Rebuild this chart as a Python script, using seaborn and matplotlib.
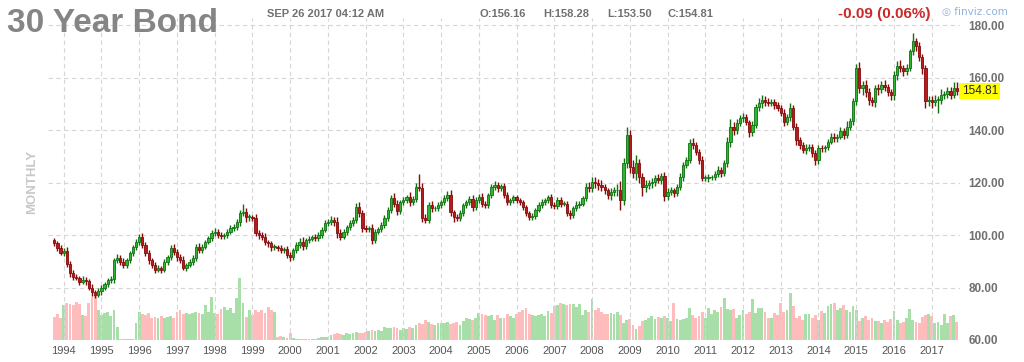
import numpy as np
import pandas as pd
import matplotlib
matplotlib.use("Agg")
import matplotlib.pyplot as plt
import seaborn as sns

# ---------------- data (monthly, Oct 1993 .. Sep 2017) ----------------
closes = [
    97.0, 95.0, 93.2,                                                          # 1993 Oct-Dec
    94.0, 89.0, 85.5, 84.0, 83.7, 82.1, 83.0, 82.3, 80.0, 78.2, 77.3, 78.5,     # 1994
    80.0, 81.2, 82.8, 83.3, 90.5, 91.3, 89.7, 88.6, 90.3, 93.0, 95.3, 97.3,     # 1995
    99.3, 96.2, 93.0, 90.5, 88.6, 86.7, 87.3, 86.8, 89.7, 91.6, 95.0, 93.5,     # 1996
    91.6, 90.5, 87.5, 88.6, 89.7, 91.3, 95.3, 94.2, 95.5, 97.3, 98.8, 100.8,    # 1997
    101.2, 100.0, 99.6, 100.0, 101.2, 102.7, 103.0, 105.0, 108.4, 108.7, 106.8, 106.8,  # 1998
    106.5, 100.8, 100.0, 99.3, 97.3, 96.9, 95.4, 95.4, 95.0, 94.3, 94.6, 92.4,  # 1999
    91.6, 94.3, 96.2, 97.3, 95.8, 98.0, 98.5, 99.3, 98.8, 100.0, 102.0, 104.6,  # 2000
    105.0, 105.7, 105.0, 100.8, 99.3, 101.2, 103.0, 104.6, 105.7, 110.6, 108.4, 102.7,  # 2001
    102.3, 102.7, 98.0, 101.2, 102.3, 103.8, 106.5, 109.5, 114.0, 112.0, 109.0, 112.5,  # 2002
    113.3, 114.4, 112.5, 113.7, 118.3, 117.9, 106.5, 105.7, 111.4, 110.2, 110.2, 111.4,  # 2003
    112.5, 114.0, 115.2, 108.7, 106.8, 106.5, 108.4, 111.4, 112.5, 113.7, 110.6, 113.3,  # 2004
    114.4, 112.0, 111.4, 115.2, 118.3, 119.0, 117.9, 118.5, 115.2, 112.5, 113.3, 114.4,  # 2005
    113.3, 112.5, 110.6, 108.4, 106.8, 107.2, 109.5, 111.4, 112.5, 113.3, 114.4, 111.4,  # 2006
    111.0, 113.3, 112.0, 112.0, 108.4, 107.6, 110.2, 111.4, 112.0, 114.0, 118.3, 117.9,  # 2007
    120.2, 119.8, 119.0, 118.3, 117.0, 115.2, 116.3, 117.0, 117.0, 113.5, 127.4, 138.0,  # 2008
    126.0, 123.6, 127.4, 122.0, 118.3, 119.0, 119.8, 120.2, 121.7, 121.0, 122.5, 114.8,  # 2009
    116.3, 117.0, 116.0, 118.3, 122.0, 126.7, 128.6, 135.0, 134.3, 131.6, 128.6, 121.7,  # 2010
    121.7, 122.0, 122.0, 123.2, 124.8, 123.5, 127.4, 135.4, 141.1, 140.0, 142.6, 144.6,  # 2011
    145.0, 143.0, 139.2, 141.9, 148.8, 150.3, 151.4, 150.7, 150.3, 150.7, 149.5, 148.4,  # 2012
    146.5, 143.0, 145.0, 148.4, 141.1, 136.2, 134.3, 132.4, 133.1, 133.5, 131.2, 128.6,  # 2013
    133.2, 133.0, 133.5, 135.5, 137.5, 136.8, 137.5, 139.5, 138.0, 141.0, 143.5, 151.0,  # 2014
    163.5, 156.0, 157.0, 154.5, 151.5, 150.5, 156.0, 155.5, 157.0, 156.5, 154.5, 153.5,  # 2015
    161.0, 164.5, 163.5, 162.5, 163.5, 170.0, 174.0, 172.0, 168.0, 163.5, 151.0, 151.5,  # 2016
    150.5, 151.5, 151.5, 153.5, 153.8, 155.0, 153.5, 156.16, 154.81,                    # 2017
]
first_open = 98.0

wick_up = [
    1.0, 0.8, 1.2,
    1.0, 1.5, 1.2, 1.0, 1.3, 0.8, 1.2, 1.0, 0.9, 1.2, 1.0, 1.4,
    1.0, 0.8, 1.0, 1.2, 0.8, 1.5, 1.0, 1.4, 1.0, 0.8, 0.9, 1.0,
    1.2, 1.5, 1.0, 1.2, 0.8, 1.0, 1.3, 0.9, 1.0, 0.8, 1.2, 1.6,
    1.2, 1.0, 1.5, 0.8, 1.0, 0.9, 1.2, 1.5, 1.0, 0.8, 0.9, 1.0,
    1.4, 1.0, 1.0, 0.8, 0.9, 1.0, 1.1, 1.0, 1.2, 3.0, 1.5, 1.2,
    1.0, 1.5, 1.2, 1.0, 1.4, 0.8, 1.0, 1.2, 0.9, 1.3, 1.0, 1.2,
    1.0, 0.8, 1.0, 1.5, 2.0, 0.9, 1.0, 0.8, 1.2, 1.0, 0.9, 1.0,
    1.2, 1.5, 1.3, 2.0, 1.5, 1.0, 0.9, 1.0, 1.2, 1.6, 1.8, 1.2,
    1.0, 0.9, 1.5, 1.0, 0.8, 1.0, 1.2, 1.0, 1.4, 2.0, 1.5, 1.0,
    1.2, 1.0, 1.8, 1.2, 1.5, 5.0, 2.0, 1.5, 1.2, 1.5, 1.0, 1.2,
    1.0, 1.2, 1.5, 1.8, 1.0, 1.2, 1.0, 0.9, 1.0, 1.2, 1.5, 1.0,
    1.2, 1.5, 1.0, 0.8, 1.0, 1.5, 1.2, 1.0, 1.2, 1.0, 0.8, 1.0,
    1.0, 0.8, 0.9, 1.0, 0.8, 1.0, 0.9, 1.0, 1.2, 0.8, 1.0, 1.2,
    1.0, 1.2, 1.0, 0.9, 1.0, 1.2, 1.0, 1.5, 1.0, 1.0, 1.5, 1.8,
    2.0, 2.0, 1.5, 1.8, 1.2, 1.0, 1.5, 1.2, 2.5, 3.5, 2.0, 3.0,
    2.0, 2.5, 3.0, 1.5, 1.5, 2.0, 1.2, 1.5, 1.2, 1.5, 1.0, 1.5,
    1.5, 1.2, 1.0, 1.0, 1.5, 1.2, 1.0, 1.5, 1.8, 1.2, 1.0, 1.5,
    1.0, 1.2, 1.0, 1.2, 1.5, 1.0, 1.2, 2.0, 3.0, 2.0, 1.5, 1.2,
    1.5, 1.2, 1.0, 1.5, 1.2, 1.8, 2.0, 1.5, 1.5, 1.2, 1.0, 1.2,
    1.0, 1.5, 1.2, 1.8, 1.0, 1.5, 1.2, 1.0, 1.5, 1.2, 1.0, 1.2,
    1.0, 1.2, 0.8, 1.0, 1.2, 1.5, 1.0, 1.5, 1.2, 2.5, 1.0, 1.2,
    1.8, 2.5, 1.5, 2.0, 1.5, 1.0, 1.2, 1.5, 1.8, 2.0, 1.2, 1.0,
    1.5, 1.8, 2.0, 1.2, 1.5, 1.0, 3.0, 1.2, 1.5, 1.0, 1.2, 1.5,
    1.5, 1.8, 1.5, 2.0, 1.0, 1.5, 1.2, 2.0, 2.12,
]
wick_dn = [
    1.0, 1.2, 0.9,
    1.2, 1.0, 1.5, 1.2, 1.0, 1.3, 0.9, 1.2, 1.0, 1.5, 1.2, 1.0,
    1.2, 1.0, 0.9, 1.2, 1.5, 1.0, 1.3, 1.2, 1.0, 0.9, 1.0, 1.2,
    1.0, 1.2, 1.0, 1.5, 1.2, 1.0, 0.9, 1.2, 1.0, 1.2, 1.0, 1.2,
    1.5, 1.2, 1.0, 1.2, 0.9, 1.0, 1.2, 1.0, 1.2, 1.0, 0.9, 1.0,
    1.0, 1.2, 1.3, 1.0, 1.2, 0.9, 1.0, 1.2, 1.5, 1.2, 1.8, 1.5,
    1.2, 1.0, 1.5, 1.2, 1.0, 1.3, 1.5, 1.2, 1.0, 1.2, 1.0, 1.2,
    1.5, 1.2, 1.0, 1.2, 1.5, 1.0, 1.2, 0.9, 1.0, 1.2, 1.0, 0.9,
    1.0, 1.2, 1.5, 1.8, 1.2, 1.0, 1.2, 1.0, 1.3, 1.2, 1.5, 1.5,
    1.2, 1.0, 1.5, 1.2, 1.0, 1.2, 1.0, 1.2, 1.0, 1.5, 1.2, 1.0,
    1.0, 1.2, 1.5, 1.0, 1.2, 1.0, 1.5, 1.2, 1.0, 1.5, 1.2, 1.0,
    1.2, 1.0, 1.2, 1.5, 1.8, 1.2, 1.0, 1.2, 1.0, 1.2, 1.5, 1.0,
    1.0, 1.5, 1.2, 1.0, 1.2, 1.0, 1.5, 1.2, 1.0, 1.2, 1.0, 1.2,
    1.0, 1.2, 1.0, 1.2, 1.0, 1.2, 1.0, 0.9, 1.0, 1.2, 1.0, 1.0,
    1.2, 1.0, 1.2, 1.0, 1.2, 1.5, 1.2, 1.0, 1.2, 1.0, 1.2, 1.5,
    1.5, 1.8, 2.0, 1.5, 1.2, 1.5, 1.8, 1.5, 2.0, 4.0, 2.0, 2.0,
    2.5, 2.0, 2.5, 2.0, 3.5, 2.0, 1.5, 1.8, 1.5, 1.2, 1.5, 2.0,
    1.5, 1.2, 1.5, 1.2, 1.0, 1.5, 1.2, 1.0, 1.5, 1.2, 1.5, 1.2,
    1.2, 1.5, 1.2, 1.0, 1.2, 1.5, 1.2, 1.5, 1.8, 2.0, 1.5, 1.2,
    1.5, 1.2, 2.0, 1.5, 1.2, 1.5, 1.8, 1.5, 1.2, 1.0, 1.5, 1.2,
    1.2, 1.5, 1.2, 1.5, 1.2, 1.8, 1.5, 1.2, 1.5, 1.2, 1.5, 1.8,
    1.5, 1.2, 1.5, 1.2, 1.0, 1.5, 1.2, 1.0, 1.5, 1.2, 1.0, 1.5,
    1.5, 2.0, 2.5, 1.8, 2.0, 1.5, 1.8, 2.0, 1.5, 1.8, 1.5, 2.0,
    2.0, 1.8, 1.5, 2.0, 1.5, 1.2, 1.5, 2.0, 1.8, 2.0, 2.5, 2.0,
    2.0, 1.5, 5.0, 1.5, 1.8, 1.5, 1.5, 1.2, 1.31,
]
volume = [
    23, 26, 22,
    35, 37, 36, 35, 38, 36, 25, 24, 37, 43, 45, 30,
    25, 27, 28, 24, 30, 13, 1, 1, 1, 1, 1, 17,
    28, 26, 25, 27, 22, 23, 22, 24, 22, 23, 24, 22,
    28, 30, 26, 27, 26, 27, 28, 27, 26, 35, 28, 43,
    27, 26, 31, 33, 30, 32, 27, 42, 62, 37, 23, 30,
    25, 30, 28, 30, 27, 33, 30, 28, 3, 4, 3, 2,
    7, 2, 1, 1, 1, 1, 1, 1, 1, 2, 3, 3,
    3, 5, 6, 7, 6, 5, 7, 6, 7, 8, 7, 7,
    8, 9, 10, 9, 10, 9, 13, 12, 12, 13, 12, 10,
    12, 11, 13, 12, 15, 17, 16, 20, 18, 16, 15, 17,
    17, 17, 18, 16, 17, 18, 15, 19, 22, 21, 20, 22,
    27, 26, 25, 24, 25, 20, 25, 22, 22, 26, 24, 22,
    26, 28, 30, 32, 26, 25, 24, 25, 26, 24, 29, 27,
    34, 35, 37, 36, 35, 36, 36, 33, 36, 25, 30, 28,
    41, 30, 32, 28, 26, 26, 27, 26, 28, 25, 17, 20,
    21, 15, 11, 14, 19, 20, 22, 24, 21, 23, 22, 24,
    22, 19, 37, 21, 20, 21, 22, 32, 25, 22, 24, 28,
    22, 32, 26, 30, 28, 33, 42, 31, 30, 31, 22, 25,
    30, 26, 28, 41, 27, 32, 32, 28, 22, 22, 27, 25,
    37, 28, 30, 47, 34, 22, 24, 20, 26, 26, 22, 25,
    20, 29, 27, 34, 36, 37, 30, 32, 35, 30, 28, 34,
    30, 19, 22, 24, 20, 22, 19, 19, 17, 20, 18, 21,
    29, 20, 17, 18, 22, 31, 20, 18, 17, 23, 25, 26,
    24, 17, 18, 15, 26, 17, 24, 25, 18,
]
years = list(range(1994, 2018))
y_ticks = [60, 80, 100, 120, 140, 160, 180]
last_price = 154.81

# ---------------- frame ----------------
n = len(closes)
idx = np.arange(n)
c = np.array(closes)
o = np.concatenate([[first_open], c[:-1]])
hi = np.maximum(o, c) + np.array(wick_up)
lo = np.minimum(o, c) - np.array(wick_dn)
up = c >= o
df = pd.DataFrame({"i": idx, "vol": volume, "dir": np.where(up, "up", "down")})

sns.set_style("white")
plt.rcParams["font.family"] = ["Liberation Sans", "DejaVu Sans"]

W, H = 1024, 362
fig = plt.figure(figsize=(W / 100, H / 100), dpi=100)
L, R, T, B = 48, 960, 18, 340
ax = fig.add_axes([L / W, (H - B) / H, (R - L) / W, (B - T) / H])
ax2 = ax.twinx()

# volume (behind)
sns.barplot(data=df, x="i", y="vol", hue="dir", native_scale=True, dodge=False,
            palette={"up": "#a8dea8", "down": "#ffbcbc"}, saturation=1,
            width=0.9, errorbar=None, legend=False, ax=ax2, linewidth=0)
ax2.set_ylim(0, B - T)
ax2.set_yticks([])
ax2.set_ylabel("")
ax2.set_xlabel("")
for s in ax2.spines.values():
    s.set_visible(False)

ax.set_zorder(ax2.get_zorder() + 1)
ax.patch.set_visible(False)

# candles
green_f, green_e = "#2fb52f", "#127012"
red_f, red_e = "#b51c1c", "#860a0a"
fc = np.where(up, green_f, red_f)
ec = np.where(up, green_e, red_e)
ax.vlines(idx, lo, hi, colors=ec, linewidth=1.0, zorder=3)
body_b = np.minimum(o, c)
body_h = np.maximum(np.abs(c - o), 0.25)
ax.bar(idx, body_h, bottom=body_b, width=0.72, color=fc, edgecolor=ec,
       linewidth=0.6, zorder=4)

ax.set_xlim(-2, 288)
ax.set_ylim(60, 60 + (B - T) / 2.625)
jan_pos = [3 + 12 * k for k in range(len(years))]
ax.set_xticks(jan_pos)
ax.set_xticklabels([str(y) for y in years], fontsize=8, color="#555555")
ax.yaxis.tick_right()
ax.set_yticks(y_ticks)
ax.set_yticklabels([f"{v:.2f}" for v in y_ticks], fontsize=8.5, color="#707070",
                   fontweight="bold")
ax.tick_params(axis="both", length=0)
ax.tick_params(axis="y", pad=6)
ax.tick_params(axis="x", pad=4)
ax.grid(True, color="#d6d6d6", linestyle=(0, (4, 3)), linewidth=0.8)
for s in ax.spines.values():
    s.set_visible(False)
ax.set_xlabel("")
ax.set_ylabel("")

# last price tag
ax.text(1.002, (last_price - 60) / (ax.get_ylim()[1] - 60), f"{last_price:.2f}",
        transform=ax.transAxes, ha="left", va="center", fontsize=8.5,
        color="#222222", bbox=dict(boxstyle="square,pad=0.2", fc="#ffff00", ec="none"),
        zorder=10)

# header texts
fig.text(7 / W, 1 - 23 / H, "30 Year Bond", fontsize=24, fontweight="bold",
         color="#858585", ha="left", va="center")
fig.text(267 / W, 1 - 14 / H, "SEP 26 2017 04:12 AM", fontsize=8,
         fontweight="bold", color="#707070", ha="left", va="center")
for xpx, s in [(480, "O:156.16"), (543, "H:158.28"), (607, "L:153.50"), (668, "C:154.81")]:
    fig.text(xpx / W, 1 - 14 / H, s, fontsize=8, fontweight="bold",
             color="#707070", ha="left", va="center")
fig.text(838 / W, 1 - 14 / H, "-0.09 (0.06%)", fontsize=11, fontweight="bold",
         color="#cc2a2a", ha="left", va="center")
fig.text(942 / W, 1 - 12 / H, "◎ finviz.com", fontsize=7.5, color="#8fb4df",
         ha="left", va="center", family=["DejaVu Sans"])
fig.text(32 / W, 1 - 182 / H, "MONTHLY", fontsize=9.5, fontweight="bold",
         color="#c8c8c8", rotation=90, ha="center", va="center")

fig.savefig("out.png", dpi=100)
